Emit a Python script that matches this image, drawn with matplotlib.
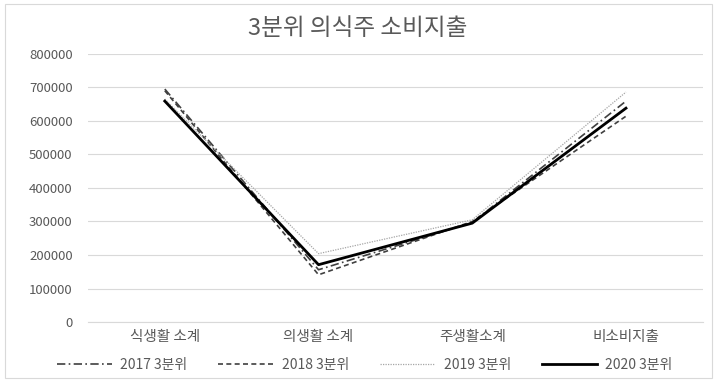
import matplotlib
matplotlib.use('Agg')
import matplotlib.pyplot as plt

plt.rcParams['font.family'] = ['Noto Sans CJK KR', 'DejaVu Sans']

categories = ['식생활 소계', '의생활 소계', '주생활소계', '비소비지출']
v2017 = [695000, 156000, 297000, 659000]
v2018 = [690000, 141000, 300000, 614000]
v2019 = [665000, 204000, 305000, 686000]
v2020 = [659000, 171000, 295000, 638000]
yticks = [0, 100000, 200000, 300000, 400000, 500000, 600000, 700000, 800000]

text_color = '#595959'

fig = plt.figure(figsize=(7.15, 3.82), dpi=100)
ax = fig.add_axes([0.123, 0.157, 0.860, 0.702])

x = range(len(categories))
ax.plot(x, v2017, color='#404040', linewidth=1.2, linestyle=(0, (5, 2, 1, 2)), label='2017 3분위')
ax.plot(x, v2018, color='#404040', linewidth=1.2, linestyle=(0, (3, 2)), label='2018 3분위')
ax.plot(x, v2019, color='#a6a6a6', linewidth=0.9, linestyle=(0, (1, 1)), label='2019 3분위')
ax.plot(x, v2020, color='black', linewidth=2.0, linestyle='-', label='2020 3분위')

ax.set_xlim(-0.5, 3.5)
ax.set_ylim(0, 800000)
ax.set_yticks(yticks)
ax.set_yticklabels([str(t) for t in yticks])
ax.set_xticks(list(x))
ax.set_xticklabels(categories)
ax.tick_params(axis='y', length=0, labelsize=9.5, colors=text_color, pad=11)
ax.tick_params(axis='x', length=0, labelsize=10.5, colors=text_color, pad=6)
ax.grid(axis='y', color='#d9d9d9', linewidth=0.8)
ax.set_axisbelow(True)
for s in ['top', 'right', 'left']:
    ax.spines[s].set_visible(False)
ax.spines['bottom'].set_color('#d9d9d9')

fig.suptitle('3분위 의식주 소비지출', y=0.955, fontsize=17, color=text_color)

fig.legend(loc='center', bbox_to_anchor=(0.51, 0.045), ncol=4, frameon=False,
           fontsize=10, labelcolor=text_color, handlelength=4.0, handletextpad=0.6,
           columnspacing=2.2)

# light chart border
fig.patches.append(plt.Rectangle((5 / 715, 4 / 382), 707 / 715, 374 / 382,
                                 transform=fig.transFigure, fill=False,
                                 edgecolor='#d9d9d9', linewidth=0.8))

fig.savefig('out.png', dpi=100)
